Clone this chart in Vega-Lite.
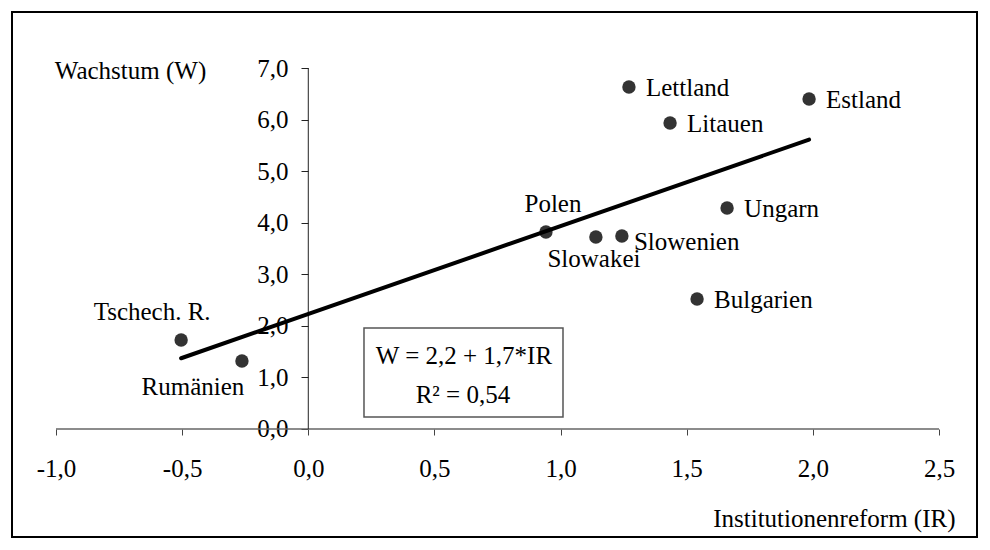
{
  "$schema": "https://vega.github.io/schema/vega-lite/v6.json",
  "width": 965,
  "height": 525,
  "autosize": {"type": "none"},
  "padding": {"left": 12, "top": 12, "right": 13, "bottom": 13},
  "background": "white",
  "config": {
    "view": {"stroke": "black", "strokeWidth": 2},
    "font": "Liberation Serif",
    "text": {"font": "Liberation Serif", "fontSize": 25, "color": "black"}
  },
  "datasets": {
    "laender": [
      {"Land": "Tschech. R.", "IR": -0.504, "W": 1.726},
      {"Land": "Rumänien", "IR": -0.263, "W": 1.319},
      {"Land": "Polen", "IR": 0.942, "W": 3.82},
      {"Land": "Slowakei", "IR": 1.14, "W": 3.723},
      {"Land": "Slowenien", "IR": 1.243, "W": 3.743},
      {"Land": "Ungarn", "IR": 1.66, "W": 4.285},
      {"Land": "Bulgarien", "IR": 1.541, "W": 2.521},
      {"Land": "Lettland", "IR": 1.271, "W": 6.632},
      {"Land": "Litauen", "IR": 1.434, "W": 5.934},
      {"Land": "Estland", "IR": 1.985, "W": 6.399}
    ],
    "formel": [
      {"zeile1": "W = 2,2 + 1,7*IR", "zeile2": "R² = 0,54"}
    ]
  },
  "data": {"name": "laender"},
  "layer": [
    {
      "data": {"name": "formel"},
      "mark": {"type": "rect", "fill": "white", "stroke": "#555", "strokeWidth": 1.5},
      "encoding": {
        "x": {
          "datum": 0.2208, "type": "quantitative",
          "scale": {"domain": [-1.1744, 2.6506], "nice": false, "zero": false},
          "axis": {
            "orient": "bottom", "offset": -108, "domain": false, "grid": false,
            "values": [-1, -0.5, 0, 0.5, 1, 1.5, 2, 2.5],
            "labelExpr": "(datum.value < 0 ? '-' : '') + replace(format(abs(datum.value), '.1f'), '.', ',')",
            "tickColor": "#444", "tickSize": 6, "tickWidth": 1,
            "labelFont": "Liberation Serif", "labelFontSize": 25, "labelColor": "black",
            "labelPadding": 21, "labelFlush": false, "labelOverlap": false,
            "title": "Institutionenreform (IR)", "titleFont": "Liberation Serif", "titleFontSize": 25,
            "titleFontWeight": "normal", "titleColor": "black",
            "titleX": 943, "titleY": 89, "titleAlign": "right", "titleBaseline": "middle"
          }
        },
        "x2": {"datum": 1.0096},
        "y": {
          "datum": 1.958, "type": "quantitative",
          "scale": {"domain": [-2.0942, 8.0859], "nice": false, "zero": false},
          "axis": {
            "orient": "left", "offset": -296, "domain": false, "grid": false,
            "values": [0, 1, 2, 3, 4, 5, 6, 7],
            "labelExpr": "replace(format(datum.value, '.1f'), '.', ',')",
            "tickColor": "#222", "tickSize": 7, "tickWidth": 1,
            "labelFont": "Liberation Serif", "labelFontSize": 25, "labelColor": "black",
            "labelPadding": 13, "labelFlush": false, "labelOverlap": false, "labelBaseline": "middle",
            "title": "Wachstum (W)", "titleFont": "Liberation Serif", "titleFontSize": 25,
            "titleFontWeight": "normal", "titleColor": "black", "titleAngle": 0,
            "titleX": -178, "titleY": 58, "titleAlign": "center", "titleBaseline": "middle"
          }
        },
        "y2": {"datum": 0.233}
      }
    },
    {
      "data": {"name": "formel"},
      "mark": {"type": "text", "align": "center", "baseline": "middle"},
      "encoding": {
        "x": {"datum": 0.617, "type": "quantitative"},
        "y": {"datum": 1.416, "type": "quantitative"},
        "text": {"field": "zeile1"}
      }
    },
    {
      "data": {"name": "formel"},
      "mark": {"type": "text", "align": "center", "baseline": "middle"},
      "encoding": {
        "x": {"datum": 0.613, "type": "quantitative"},
        "y": {"datum": 0.659, "type": "quantitative"},
        "text": {"field": "zeile2"}
      }
    },
    {
      "data": {"name": "formel"},
      "mark": {"type": "rule", "color": "#666", "strokeWidth": 1.5},
      "encoding": {
        "x": {"datum": -1, "type": "quantitative"},
        "x2": {"datum": 2.5},
        "y": {"datum": 0, "type": "quantitative"}
      }
    },
    {
      "data": {"name": "formel"},
      "mark": {"type": "rule", "color": "#222", "strokeWidth": 1},
      "encoding": {
        "x": {"datum": 0, "type": "quantitative"},
        "y": {"datum": 0, "type": "quantitative"},
        "y2": {"datum": 7}
      }
    },
    {
      "mark": {"type": "circle", "size": 180, "color": "#333", "opacity": 1},
      "encoding": {
        "x": {"field": "IR", "type": "quantitative"},
        "y": {"field": "W", "type": "quantitative"}
      }
    },
    {
      "transform": [{"regression": "W", "on": "IR"}],
      "mark": {"type": "line", "color": "black", "strokeWidth": 4, "strokeCap": "round"},
      "encoding": {
        "x": {"field": "IR", "type": "quantitative"},
        "y": {"field": "W", "type": "quantitative"}
      }
    },
    {
      "transform": [{"filter": {"field": "Land", "oneOf": ["Lettland", "Estland", "Litauen", "Ungarn", "Bulgarien"]}}],
      "mark": {"type": "text", "align": "left", "baseline": "middle", "dx": 17, "dy": 1},
      "encoding": {
        "x": {"field": "IR", "type": "quantitative"},
        "y": {"field": "W", "type": "quantitative"},
        "text": {"field": "Land"}
      }
    },
    {
      "transform": [{"filter": {"field": "Land", "equal": "Slowenien"}}],
      "mark": {"type": "text", "align": "left", "baseline": "middle", "dx": 12, "dy": 6},
      "encoding": {
        "x": {"field": "IR", "type": "quantitative"},
        "y": {"field": "W", "type": "quantitative"},
        "text": {"field": "Land"}
      }
    },
    {
      "transform": [{"filter": {"field": "Land", "equal": "Slowakei"}}],
      "mark": {"type": "text", "align": "center", "baseline": "middle", "dx": -2, "dy": 22},
      "encoding": {
        "x": {"field": "IR", "type": "quantitative"},
        "y": {"field": "W", "type": "quantitative"},
        "text": {"field": "Land"}
      }
    },
    {
      "transform": [{"filter": {"field": "Land", "equal": "Polen"}}],
      "mark": {"type": "text", "align": "center", "baseline": "middle", "dx": 7, "dy": -28},
      "encoding": {
        "x": {"field": "IR", "type": "quantitative"},
        "y": {"field": "W", "type": "quantitative"},
        "text": {"field": "Land"}
      }
    },
    {
      "transform": [{"filter": {"field": "Land", "equal": "Tschech. R."}}],
      "mark": {"type": "text", "align": "center", "baseline": "middle", "dx": -29, "dy": -28},
      "encoding": {
        "x": {"field": "IR", "type": "quantitative"},
        "y": {"field": "W", "type": "quantitative"},
        "text": {"field": "Land"}
      }
    },
    {
      "transform": [{"filter": {"field": "Land", "equal": "Rumänien"}}],
      "mark": {"type": "text", "align": "center", "baseline": "middle", "dx": -49, "dy": 26},
      "encoding": {
        "x": {"field": "IR", "type": "quantitative"},
        "y": {"field": "W", "type": "quantitative"},
        "text": {"field": "Land"}
      }
    }
  ]
}
